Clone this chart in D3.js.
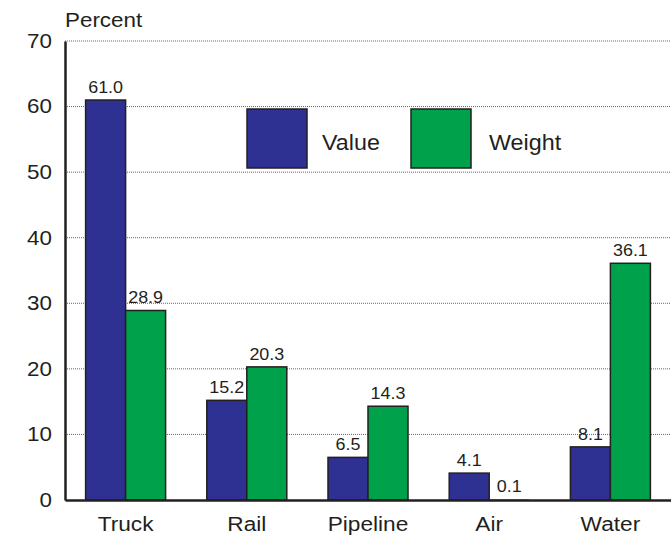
<!DOCTYPE html>
<html>
<head>
<meta charset="utf-8">
<script src="https://cdnjs.cloudflare.com/ajax/libs/d3/7.8.5/d3.min.js"></script>
<style>
  body { margin: 0; background: #fff; }
  text { font-family: "Liberation Sans", Arial, sans-serif; fill: #231f20; }
</style>
</head>
<body>
<div id="chart"></div>
<script>
// data
var modes = ["Truck", "Rail", "Pipeline", "Air", "Water"];
var seriesNames = ["Value", "Weight"];
var valueShare = [61.0, 15.2, 6.5, 4.1, 8.1];
var weightShare = [28.9, 20.3, 14.3, 0.1, 36.1];
var yTicks = [0, 10, 20, 30, 40, 50, 60, 70];
var colors = ["#2e3192", "#00a14b"];

var totalW = 671, totalH = 536;
var margin = {top: 41, right: 0, bottom: 36, left: 65},
    width = totalW - margin.left - margin.right,
    height = totalH - margin.top - margin.bottom;

// the original text is a bit wider than Arial, so stretch it sideways
function stretch(sel, s) {
  sel.each(function() {
    var t = d3.select(this);
    var x0 = +t.attr("x") || 0;
    t.attr("x", x0 / s).attr("transform", "scale(" + s + ",1)");
  });
}

var svg = d3.select("#chart")
  .append("svg")
    .attr("width", totalW)
    .attr("height", totalH)
  .append("g")
    .attr("transform", "translate(" + margin.left + "," + margin.top + ")");

var x = d3.scaleBand()
  .domain(modes)
  .range([0, width])
  .padding(0);

var xSub = d3.scaleBand()
  .domain(seriesNames)
  .range([0, 80]);

var y = d3.scaleLinear()
  .domain([0, 70])
  .range([height, 0]);

// gridlines
svg.append("g")
  .selectAll("line")
  .data(yTicks.filter(function(d) { return d > 0; }))
  .enter()
  .append("line")
    .attr("x1", 0)
    .attr("x2", width)
    .attr("y1", function(d) { return y(d); })
    .attr("y2", function(d) { return y(d); })
    .attr("stroke", "#666")
    .attr("stroke-width", 1)
    .attr("stroke-dasharray", "1,1");

// y axis
var yAxis = svg.append("g")
  .call(d3.axisLeft(y).tickValues(yTicks).tickSize(0).tickPadding(13));
yAxis.select(".domain").attr("stroke", "#231f20").attr("stroke-width", 2.5);
yAxis.selectAll("text")
  .style("font-size", "20px")
  .style("font-family", "Liberation Sans, Arial, sans-serif")
  .attr("fill", "#231f20")
  .call(stretch, 1.12);

svg.append("text")
  .attr("x", 0)
  .attr("y", -14)
  .style("font-size", "20px")
  .text("Percent")
  .call(stretch, 1.12);

// bars
var rows = modes.map(function(m, i) {
  return [
    {mode: m, key: "Value", v: valueShare[i]},
    {mode: m, key: "Weight", v: weightShare[i]}
  ];
});

var groups = svg.selectAll(".grp")
  .data(rows)
  .enter()
  .append("g")
    .attr("class", "grp")
    .attr("transform", function(d) {
      return "translate(" + (x(d[0].mode) + x.bandwidth() / 2 - 40) + ",0)";
    });

groups.selectAll("rect")
  .data(function(d) { return d; })
  .enter()
  .append("rect")
    .attr("x", function(d) { return xSub(d.key); })
    .attr("y", function(d) { return y(d.v); })
    .attr("width", xSub.bandwidth())
    .attr("height", function(d) { return height - y(d.v); })
    .attr("fill", function(d, i) { return colors[i]; })
    .attr("stroke", function(d) { return d.v < 1 ? "none" : "#231f20"; })
    .attr("stroke-width", 1.5);

groups.selectAll(".lbl")
  .data(function(d) { return d; })
  .enter()
  .append("text")
    .attr("class", "lbl")
    .attr("x", function(d) { return xSub(d.key) + xSub.bandwidth() / 2; })
    .attr("y", function(d) { return y(d.v) - 7; })
    .attr("text-anchor", "middle")
    .style("font-size", "16px")
    .text(function(d) { return d.v.toFixed(1); })
    .call(stretch, 1.12);

// x axis
var xAxis = svg.append("g")
  .attr("transform", "translate(0," + height + ")")
  .call(d3.axisBottom(x).tickSize(0).tickPadding(16));
xAxis.select(".domain").attr("stroke", "#231f20").attr("stroke-width", 2.5);
xAxis.selectAll("text")
  .style("font-size", "21px")
  .style("font-family", "Liberation Sans, Arial, sans-serif")
  .attr("fill", "#231f20")
  .call(stretch, 1.08);

// legend
var legend = svg.selectAll(".legend")
  .data(seriesNames)
  .enter()
  .append("g")
    .attr("class", "legend")
    .attr("transform", function(d, i) { return "translate(" + (182 + i * 164) + "," + 68 + ")"; });

legend.append("rect")
  .attr("width", 60)
  .attr("height", 59)
  .attr("fill", function(d, i) { return colors[i]; })
  .attr("stroke", "#231f20")
  .attr("stroke-width", 1.5);

legend.append("text")
  .attr("x", function(d, i) { return i === 0 ? 75 : 78; })
  .attr("y", 41)
  .style("font-size", "22px")
  .text(function(d) { return d; })
  .call(stretch, 1.06);
</script>
</body>
</html>
